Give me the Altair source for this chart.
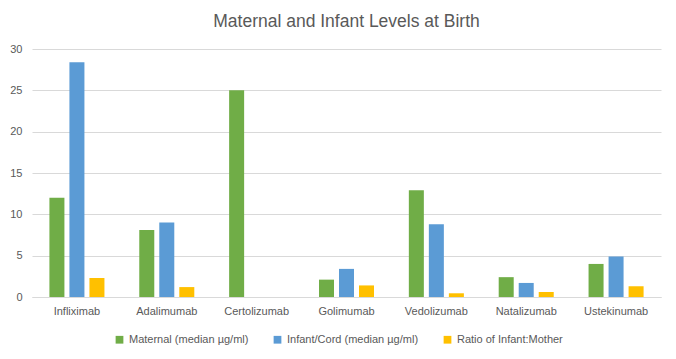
import altair as alt
import pandas as pd

drugs = ["Infliximab", "Adalimumab", "Certolizumab", "Golimumab", "Vedolizumab", "Natalizumab", "Ustekinumab"]
series = ["Maternal (median µg/ml)", "Infant/Cord (median µg/ml)", "Ratio of Infant:Mother"]
maternal = [12.0, 8.1, 25.0, 2.1, 12.9, 2.4, 4.0]
infant = [28.4, 9.0, None, 3.4, 8.8, 1.7, 4.9]
ratio = [2.3, 1.2, None, 1.4, 0.45, 0.6, 1.3]
colors = ["#70AD47", "#5B9BD5", "#FFC000"]

rows = []
for i, d in enumerate(drugs):
    for s, vals in zip(series, [maternal, infant, ratio]):
        rows.append({"drug": d, "series": s, "value": vals[i]})
df = pd.DataFrame(rows)

font = "Liberation Sans"
gray = "#595959"

chart = alt.Chart(df).mark_bar().encode(
    x=alt.X("drug:N", sort=drugs, title=None,
            scale=alt.Scale(paddingInner=0, paddingOuter=0),
            axis=alt.Axis(labelAngle=0, ticks=False, domainColor="#D9D9D9",
                          labelColor=gray, labelFont=font, labelFontSize=11,
                          labelPadding=8)),
    xOffset=alt.XOffset("series:N", sort=series,
                        scale=alt.Scale(paddingInner=0.25, paddingOuter=0.87)),
    y=alt.Y("value:Q", title=None,
            scale=alt.Scale(domain=[0, 30]),
            axis=alt.Axis(values=[0, 5, 10, 15, 20, 25, 30], domain=False, ticks=False,
                          gridColor="#D9D9D9", labelColor=gray, labelFont=font,
                          labelFontSize=11, labelPadding=10)),
    color=alt.Color("series:N", sort=series,
                    scale=alt.Scale(domain=series, range=colors),
                    legend=alt.Legend(title=None, orient="none", direction="horizontal",
                                      legendX=82, legendY=285, symbolType="square",
                                      symbolSize=60, symbolStrokeWidth=0,
                                      labelColor=gray, labelFont=font, labelFontSize=11,
                                      labelLimit=300, columnPadding=23)),
).properties(
    width=629,
    height=248,
    title=alt.TitleParams("Maternal and Infant Levels at Birth", font=font, fontSize=17.5,
                          fontWeight="normal", color=gray, anchor="middle", offset=13),
    autosize=alt.AutoSizeParams(type="none"),
    padding={"left": 24, "top": 41, "right": 7, "bottom": 54},
).configure_view(stroke=None)

chart.save("out.html", embed_options={"renderer": "svg", "actions": False})
